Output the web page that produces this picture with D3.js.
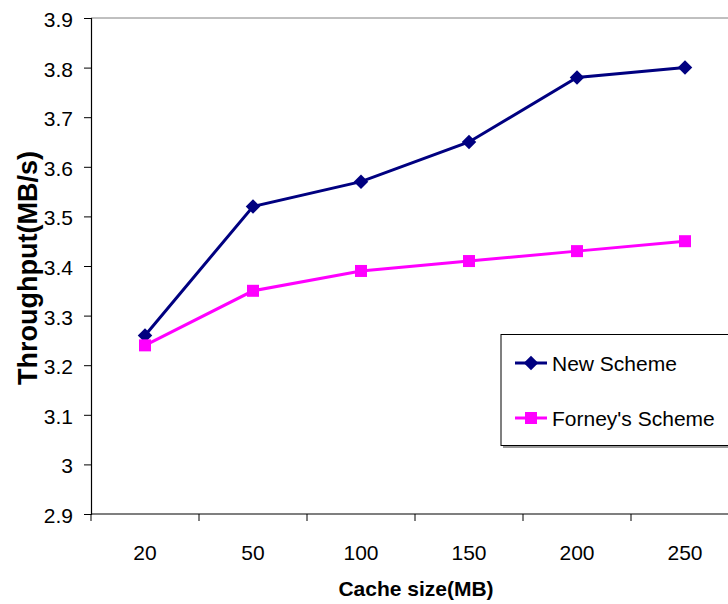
<!DOCTYPE html>
<html>
<head>
<meta charset="utf-8">
<script src="https://cdn.jsdelivr.net/npm/d3@7"></script>
<style>
  html, body { margin: 0; padding: 0; background: #fff; }
  svg { display: block; font-family: "Liberation Sans", Arial, sans-serif; }
</style>
</head>
<body>
<svg id="chart" width="728" height="604"></svg>
<script>
// Throughput vs cache size for the two schemes
const categories = ["20", "50", "100", "150", "200", "250"];
const newScheme = [3.26, 3.52, 3.57, 3.65, 3.78, 3.80];
const forneyScheme = [3.24, 3.35, 3.39, 3.41, 3.43, 3.45];
const yTicks = [2.9, 3.0, 3.1, 3.2, 3.3, 3.4, 3.5, 3.6, 3.7, 3.8, 3.9];

const series = [
  { name: "New Scheme", values: newScheme, color: "#000080", marker: "diamond" },
  { name: "Forney's Scheme", values: forneyScheme, color: "#FF00FF", marker: "square" }
];

const svg = d3.select("#chart");
const plotLeft = 91, plotRight = 739, plotTop = 18, plotBottom = 514;

const x = d3.scaleBand().domain(categories).range([plotLeft, plotRight]);
const y = d3.scaleLinear().domain([2.9, 3.9]).range([plotBottom, plotTop]);

// top border of the plot area
svg.append("line")
  .attr("x1", plotLeft).attr("x2", plotRight)
  .attr("y1", plotTop).attr("y2", plotTop)
  .attr("stroke", "#808080").attr("stroke-width", 1);

// y axis
const yAxis = d3.axisLeft(y).tickValues(yTicks).tickSize(7).tickPadding(11)
  .tickFormat(d => String(+d.toFixed(1)));
const gy = svg.append("g").attr("transform", `translate(${plotLeft},0)`).call(yAxis);
gy.select(".domain").attr("stroke", "#000").attr("stroke-width", 1.2);
gy.selectAll(".tick line").attr("stroke", "#000");
gy.selectAll(".tick text").attr("font-size", 21).attr("fill", "#000")
  .attr("dy", "0.4em")
  .attr("font-family", "Liberation Sans, Arial, sans-serif");

// x axis with ticks on band boundaries
const gx = svg.append("g").attr("transform", `translate(0,${plotBottom})`);
gx.append("line").attr("x1", plotLeft).attr("x2", plotRight).attr("y1", 0).attr("y2", 0)
  .attr("stroke", "#000").attr("stroke-width", 1.2);
const bounds = categories.map(c => x(c)).concat([plotRight]);
gx.selectAll(".xt").data(bounds).join("line")
  .attr("x1", d => d).attr("x2", d => d).attr("y1", 0).attr("y2", 7)
  .attr("stroke", "#000");
gx.selectAll(".xl").data(categories).join("text")
  .attr("x", d => x(d) + x.bandwidth() / 2).attr("y", 46)
  .attr("text-anchor", "middle").attr("font-size", 21).attr("fill", "#000")
  .text(d => d);

// axis titles
svg.append("text")
  .attr("transform", `translate(37,${(plotTop + plotBottom) / 2 + 2}) rotate(-90)`)
  .attr("text-anchor", "middle").attr("font-size", 27).attr("font-weight", "bold")
  .text("Throughput(MB/s)");
svg.append("text")
  .attr("x", 416).attr("y", 596)
  .attr("text-anchor", "middle").attr("font-size", 21).attr("font-weight", "bold")
  .text("Cache size(MB)");

const cx = i => x(categories[i]) + x.bandwidth() / 2;

function drawMarker(g, s, px, py) {
  if (s.marker === "diamond") {
    g.append("path").attr("d", d3.symbol().type(d3.symbolSquare).size(105)())
      .attr("transform", `translate(${px},${py}) rotate(45)`)
      .attr("fill", s.color);
  } else {
    g.append("rect").attr("x", px - 6).attr("y", py - 6)
      .attr("width", 12).attr("height", 12).attr("fill", s.color);
  }
}

series.forEach(s => {
  const line = d3.line().x((d, i) => cx(i)).y(d => y(d));
  svg.append("path").datum(s.values).attr("d", line)
    .attr("fill", "none").attr("stroke", s.color).attr("stroke-width", 3);
  const g = svg.append("g");
  s.values.forEach((v, i) => drawMarker(g, s, cx(i), y(v)));
});

// legend
const lg = svg.append("g");
lg.append("rect").attr("x", 503).attr("y", 337).attr("width", 240).attr("height", 111)
  .attr("fill", "#999");
lg.append("rect").attr("x", 501).attr("y", 334.5).attr("width", 240).attr("height", 111)
  .attr("fill", "#fff").attr("stroke", "#000").attr("stroke-width", 1);
series.forEach((s, i) => {
  const ly = 363 + i * 55;
  lg.append("line").attr("x1", 515).attr("x2", 547).attr("y1", ly).attr("y2", ly)
    .attr("stroke", s.color).attr("stroke-width", 3);
  drawMarker(lg, s, 531, ly);
  lg.append("text").attr("x", 552).attr("y", ly + 8).attr("font-size", 21)
    .attr("fill", "#000").text(s.name);
});
</script>
</body>
</html>
